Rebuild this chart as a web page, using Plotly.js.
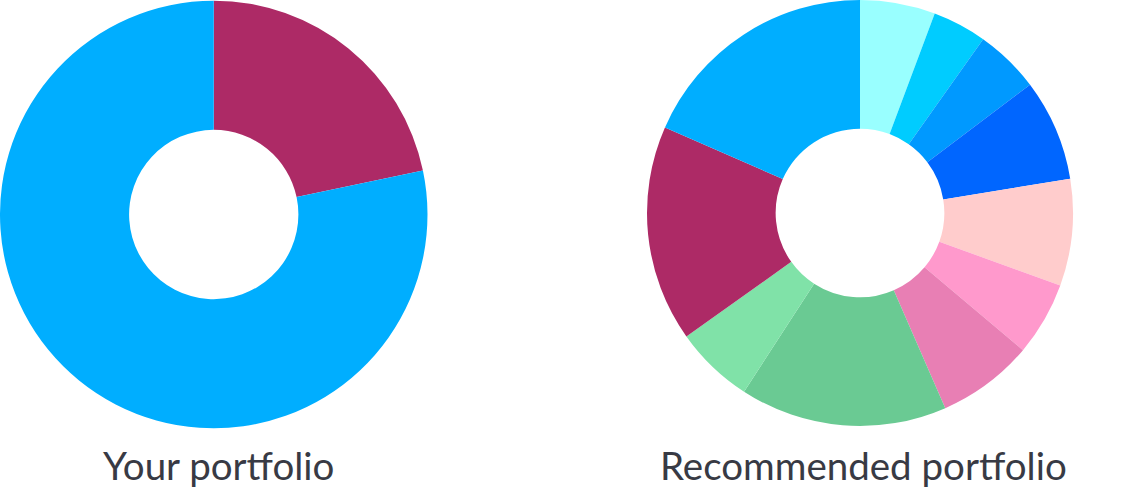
<!DOCTYPE html>
<html>
<head>
<meta charset="utf-8">
<script src="https://cdn.plot.ly/plotly-3.0.1.min.js"></script>
<style>
html,body{margin:0;padding:0;background:#fff;}
#chart{width:1122px;height:496px;}
</style>
</head>
<body>
<div id="chart"></div>
<script>
// Your portfolio (clockwise from 12 o'clock)
const yourLabels = ["Asset A", "Asset B"];
const yourValues = [21.7, 78.3];
const yourColors = ["#AD2A66", "#00AEFF"];

// Recommended portfolio (clockwise from 12 o'clock)
const recLabels = ["R1", "R2", "R3", "R4", "R5", "R6", "R7", "R8", "R9", "R10", "R11"];
const recValues = [5.7, 4.1, 4.9, 7.7, 8.1, 5.6, 7.3, 15.7, 6.0, 16.4, 18.4];
const recColors = ["#99FFFF", "#00CCFF", "#0099FF", "#0066FF", "#FFCCCC", "#FF99CC", "#E87FB4", "#6ACA93", "#80E2A8", "#AD2A66", "#00AEFF"];

const titles = ["Your portfolio", "Recommended portfolio"];

const W = 1122, H = 496;
function dom(cx, cy, r) {
  return {x: [(cx - r) / W, (cx + r) / W], y: [1 - (cy + r) / H, 1 - (cy - r) / H]};
}

const common = {
  type: "pie", hole: 0.396, sort: false, direction: "clockwise", rotation: 0,
  textinfo: "none", hoverinfo: "skip", showlegend: false
};

const data = [
  Object.assign({}, common, {labels: yourLabels, values: yourValues, marker: {colors: yourColors, line: {width: 0}}, domain: dom(213.5, 214.5, 214)}),
  Object.assign({}, common, {labels: recLabels, values: recValues, marker: {colors: recColors, line: {width: 0}}, domain: dom(860, 213, 213)})
];

const layout = {
  width: W, height: H,
  margin: {l: 0, r: 0, t: 0, b: 0},
  paper_bgcolor: "#fff",
  font: {family: "Lato, 'Open Sans', sans-serif", color: "#383A44"},
  annotations: [
    {text: titles[0], x: 218.5 / W, y: 1 - 465 / H, xref: "paper", yref: "paper", showarrow: false, xanchor: "center", yanchor: "middle", font: {size: 38.5, color: "#383A44"}},
    {text: titles[1], x: 863.5 / W, y: 1 - 465 / H, xref: "paper", yref: "paper", showarrow: false, xanchor: "center", yanchor: "middle", font: {size: 38.5, color: "#383A44"}}
  ]
};

Plotly.newPlot("chart", data, layout, {displayModeBar: false, staticPlot: true});
</script>
</body>
</html>
